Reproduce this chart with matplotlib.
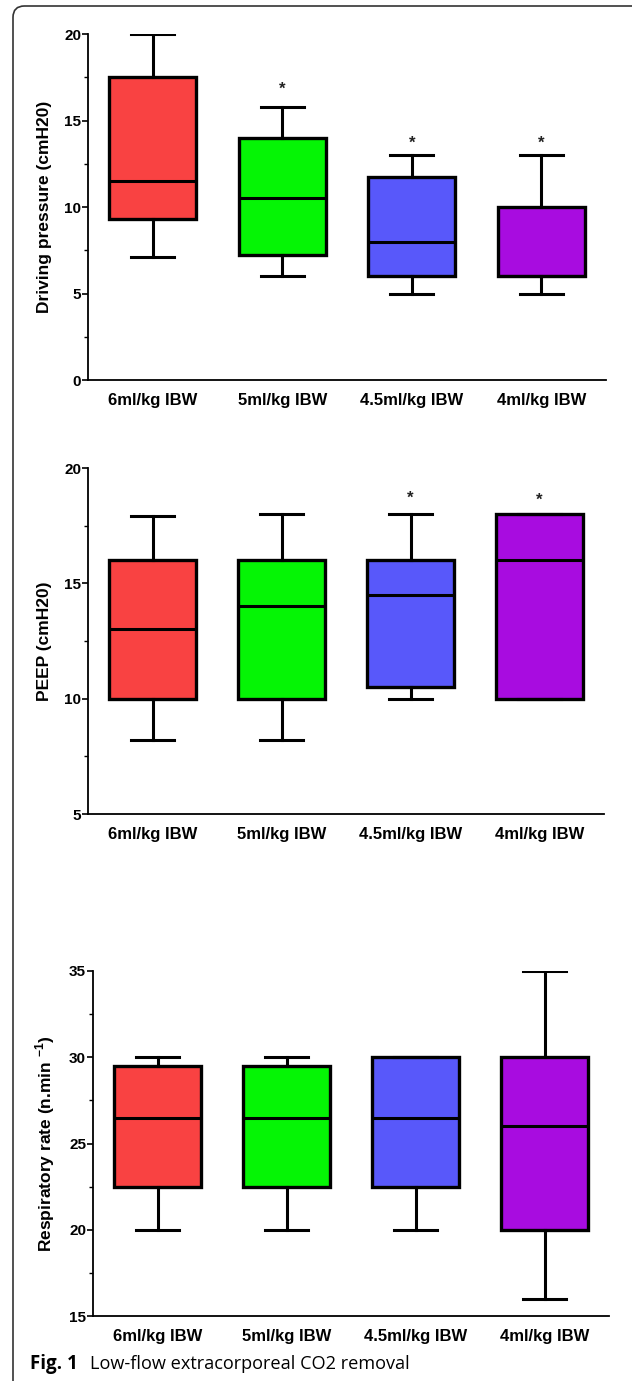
import numpy as np
import matplotlib
matplotlib.use('Agg')
import matplotlib.pyplot as plt
from matplotlib.patches import FancyBboxPatch
from matplotlib.ticker import MultipleLocator

plt.rcParams['font.family'] = ['Liberation Sans', 'DejaVu Sans']
plt.rcParams['mathtext.fontset'] = 'custom'
plt.rcParams['mathtext.rm'] = 'Liberation Sans:bold'
plt.rcParams['mathtext.bf'] = 'Liberation Sans:bold'

groups = ['6ml/kg IBW', '5ml/kg IBW', '4.5ml/kg IBW', '4ml/kg IBW']
colors = ['#F94242', '#05F505', '#5858FA', '#A80CE0']

# driving pressure (cmH2O): whisker low, q1, median, q3, whisker high
dp_lo = [7.1, 6.0, 5.0, 5.0]
dp_q1 = [9.3, 7.25, 6.0, 6.0]
dp_med = [11.5, 10.5, 8.0, 6.0]
dp_q3 = [17.5, 14.0, 11.75, 10.0]
dp_hi = [20.0, 15.8, 13.0, 13.0]
dp_star = [None, 16.8, 13.7, 13.7]

# PEEP (cmH2O)
peep_lo = [8.2, 8.2, 10.0, 10.0]
peep_q1 = [10.0, 10.0, 10.5, 10.0]
peep_med = [13.0, 14.0, 14.5, 16.0]
peep_q3 = [16.0, 16.0, 16.0, 18.0]
peep_hi = [17.9, 18.0, 18.0, 18.0]
peep_star = [None, None, 18.7, 18.6]

# respiratory rate (n/min)
rr_lo = [20.0, 20.0, 20.0, 16.0]
rr_q1 = [22.5, 22.5, 22.5, 20.0]
rr_med = [26.5, 26.5, 26.5, 26.0]
rr_q3 = [29.5, 29.5, 30.0, 30.0]
rr_hi = [30.0, 30.0, 30.0, 35.0]
rr_star = [None, None, None, None]

W, H = 632, 1381
fig = plt.figure(figsize=(W / 100, H / 100), dpi=100)


def px_axes(left, right, top, bottom):
    return fig.add_axes([left / W, 1 - bottom / H, (right - left) / W, (bottom - top) / H])


def box_panel(ax, lo, q1, med, q3, hi, stars, ylim, ylabel):
    stats = []
    for i in range(len(groups)):
        stats.append(dict(whislo=lo[i], q1=q1[i], med=med[i], q3=q3[i],
                          whishi=hi[i], fliers=[]))
    pos = np.arange(1, len(groups) + 1)
    bp = ax.bxp(stats, positions=pos, widths=0.67, patch_artist=True,
                showfliers=False,
                boxprops=dict(linewidth=2.4, edgecolor='black'),
                medianprops=dict(color='black', linewidth=2.2),
                whiskerprops=dict(color='black', linewidth=2.2),
                capprops=dict(color='black', linewidth=2.2),
                capwidths=0.33)
    for patch, c in zip(bp['boxes'], colors):
        patch.set_facecolor(c)
    for x, s in zip(pos, stars):
        if s is not None:
            ax.text(x, s, '*', ha='center', va='center', fontsize=12,
                    fontweight='bold', color='#222222')

    ax.set_xlim(0.5, 4.5)
    ax.set_ylim(*ylim)
    ax.yaxis.set_major_locator(MultipleLocator(5))
    ax.yaxis.set_minor_locator(MultipleLocator(2.5))
    ax.set_xticks(pos)
    ax.set_xticklabels(groups, fontsize=12, fontweight='bold')
    ax.tick_params(axis='x', length=0, pad=9)
    ax.tick_params(axis='y', which='major', length=4, width=1.2, labelsize=11, pad=1)
    ax.tick_params(axis='y', which='minor', length=3, width=1.0)
    for lab in ax.get_yticklabels():
        lab.set_fontweight('bold')
    ax.set_ylabel(ylabel, fontsize=12.5, fontweight='bold', labelpad=9)
    for side in ('top', 'right'):
        ax.spines[side].set_visible(False)
    for side in ('left', 'bottom'):
        ax.spines[side].set_linewidth(1.3)
    ax.set_facecolor('none')


ax1 = px_axes(88, 606, 34, 380)
box_panel(ax1, dp_lo, dp_q1, dp_med, dp_q3, dp_hi, dp_star, (0, 20),
          'Driving pressure (cmH20)')

ax2 = px_axes(88, 604, 468, 814)
box_panel(ax2, peep_lo, peep_q1, peep_med, peep_q3, peep_hi, peep_star, (5, 20),
          'PEEP (cmH20)')

ax3 = px_axes(93, 609, 971, 1316)
box_panel(ax3, rr_lo, rr_q1, rr_med, rr_q3, rr_hi, rr_star, (15, 35),
          r'Respiratory rate (n.min $^{-1}$)')

# rounded outer frame, open to the right and bottom
frame = FancyBboxPatch((13 / W, -0.05), (660 - 13) / W, 1.05 - 6 / H,
                       boxstyle='round,pad=0,rounding_size=0.018',
                       transform=fig.transFigure, facecolor='none',
                       edgecolor='#333333', linewidth=1.2,
                       mutation_aspect=W / H)
fig.patches.append(frame)

fig.text(30 / W, 1 - 1364 / H, 'Fig. 1', fontsize=13.5, fontweight='bold',
         family='Open Sans', va='center', ha='left')
fig.text(90 / W, 1 - 1364 / H, 'Low-flow extracorporeal CO2 removal', fontsize=13.1,
         family='Open Sans', va='center', ha='left')

fig.savefig('out.png', dpi=100)
